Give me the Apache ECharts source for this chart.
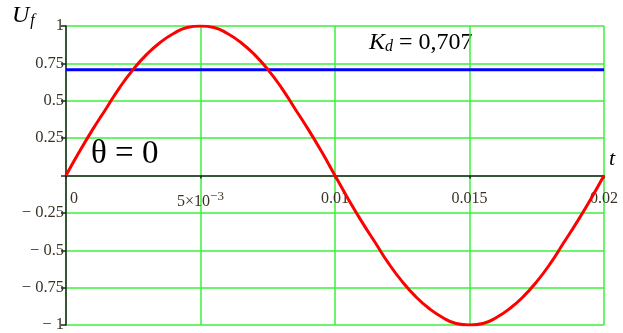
<!DOCTYPE html>
<html>
<head>
<meta charset="utf-8">
<script src="https://cdn.jsdelivr.net/npm/echarts@6/dist/echarts.min.js"></script>
<style>
  html, body { margin: 0; padding: 0; background: #fff; }
  #chart { width: 623px; height: 333px; }
</style>
</head>
<body>
<div id="chart"></div>
<script>
// Time samples (s) over one 50 Hz period
const tValues = [
  0, 0.0005, 0.001, 0.0015, 0.002, 0.0025, 0.003, 0.0035, 0.004, 0.0045,
  0.005, 0.0055, 0.006, 0.0065, 0.007, 0.0075, 0.008, 0.0085, 0.009, 0.0095,
  0.01, 0.0105, 0.011, 0.0115, 0.012, 0.0125, 0.013, 0.0135, 0.014, 0.0145,
  0.015, 0.0155, 0.016, 0.0165, 0.017, 0.0175, 0.018, 0.0185, 0.019, 0.0195,
  0.02
];
// Phase voltage U_f (per unit)
const ufValues = [
  0, 0.16, 0.31, 0.45, 0.59, 0.71, 0.81, 0.89, 0.95, 0.99,
  1.00, 0.99, 0.95, 0.89, 0.81, 0.71, 0.59, 0.45, 0.31, 0.16,
  0, -0.16, -0.31, -0.45, -0.59, -0.71, -0.81, -0.89, -0.95, -0.99,
  -1.00, -0.99, -0.95, -0.89, -0.81, -0.71, -0.59, -0.45, -0.31, -0.16,
  0
];
// Effective level K_d
const kdT = [0, 0.02];
const kdU = [0.707, 0.707];

const xTickLabels = ['{z|0}', '{b|5×10}{s|−3}', '0.01', '0.015', '0.02'];
const yTickLabels = ['− 1', '− 0.75', '− 0.5', '− 0.25', '', '0.25', '0.5', '0.75', '1'];

const serif = '"Liberation Serif", "DejaVu Serif", serif';
const labelColor = '#3b3226';
const gridGreen = '#3cf03c';

const chart = echarts.init(document.getElementById('chart'), null, { renderer: 'canvas' });

const gridTop = 26, gridBottom = 8;
const plotHeight = 333 - gridTop - gridBottom;

chart.setOption({
  animation: false,
  backgroundColor: '#ffffff',
  grid: {
    left: 66, right: 19, top: gridTop, bottom: gridBottom,
    containLabel: false, outerBoundsMode: 'none'
  },
  xAxis: {
    type: 'value',
    min: 0, max: 0.02, interval: 0.005,
    // raise the axis from the bottom edge to the zero level (middle of the y range)
    offset: -plotHeight / 2,
    axisLine: { onZero: false, lineStyle: { color: '#222', width: 1.5 } },
    axisTick: { show: true, length: 3, lineStyle: { color: '#222', width: 1.5 } },
    splitLine: { show: true, lineStyle: { color: gridGreen, width: 1.5 } },
    axisLabel: {
      margin: 15,
      fontFamily: serif, fontSize: 16, color: labelColor,
      alignMinLabel: 'left',
      formatter: (v, i) => xTickLabels[i],
      rich: {
        z: { fontFamily: serif, fontSize: 16, color: labelColor, padding: [0, 0, 0, 4] },
        b: { fontFamily: serif, fontSize: 16, color: labelColor },
        s: { fontFamily: serif, fontSize: 13, color: labelColor, padding: [0, 0, 10, 0] }
      }
    }
  },
  yAxis: {
    type: 'value',
    min: -1, max: 1, interval: 0.25,
    axisLine: { show: true, onZero: false, lineStyle: { color: '#222', width: 1.5 } },
    axisTick: { show: true, length: 5, lineStyle: { color: '#222', width: 1.5 } },
    splitLine: { show: true, lineStyle: { color: gridGreen, width: 1.5 } },
    axisLabel: {
      margin: 2,
      fontFamily: serif, fontSize: 16.5, color: labelColor,
      formatter: (v, i) => yTickLabels[i]
    }
  },
  series: [
    {
      type: 'line',
      data: kdT.map((t, i) => [t, kdU[i]]),
      symbol: 'none',
      lineStyle: { color: '#0000ff', width: 3 },
      z: 3
    },
    {
      type: 'line',
      data: tValues.map((t, i) => [t, ufValues[i]]),
      symbol: 'none',
      smooth: true,
      lineStyle: { color: '#ff0000', width: 3 },
      z: 4
    }
  ],
  graphic: [
    {
      type: 'text', left: 12, top: 4,
      style: {
        text: '{u|U}{f|f}',
        rich: {
          u: { fontFamily: serif, fontStyle: 'italic', fontSize: 24, fill: '#000' },
          f: { fontFamily: serif, fontStyle: 'italic', fontSize: 16, fill: '#000', padding: [10, 0, 0, 1] }
        }
      }
    },
    {
      type: 'text', left: 91, top: 138,
      style: { text: 'θ = 0', fontFamily: serif, fontSize: 33, fill: '#000' }
    },
    {
      type: 'text', left: 369, top: 31,
      style: {
        text: '{k|K}{d|d}{q|=}{v|0,707}',
        rich: {
          k: { fontFamily: serif, fontStyle: 'italic', fontSize: 24, fill: '#000' },
          d: { fontFamily: serif, fontStyle: 'italic', fontSize: 16, fill: '#000', padding: [8, 0, 0, 0] },
          q: { fontFamily: serif, fontSize: 24, fill: '#000', padding: [0, 6, 0, 6] },
          v: { fontFamily: serif, fontSize: 24, fill: '#000' }
        }
      }
    },
    {
      type: 'text', left: 609, top: 148,
      style: { text: 't', fontFamily: serif, fontStyle: 'italic', fontSize: 22, fill: '#000' }
    }
  ]
});
</script>
</body>
</html>
